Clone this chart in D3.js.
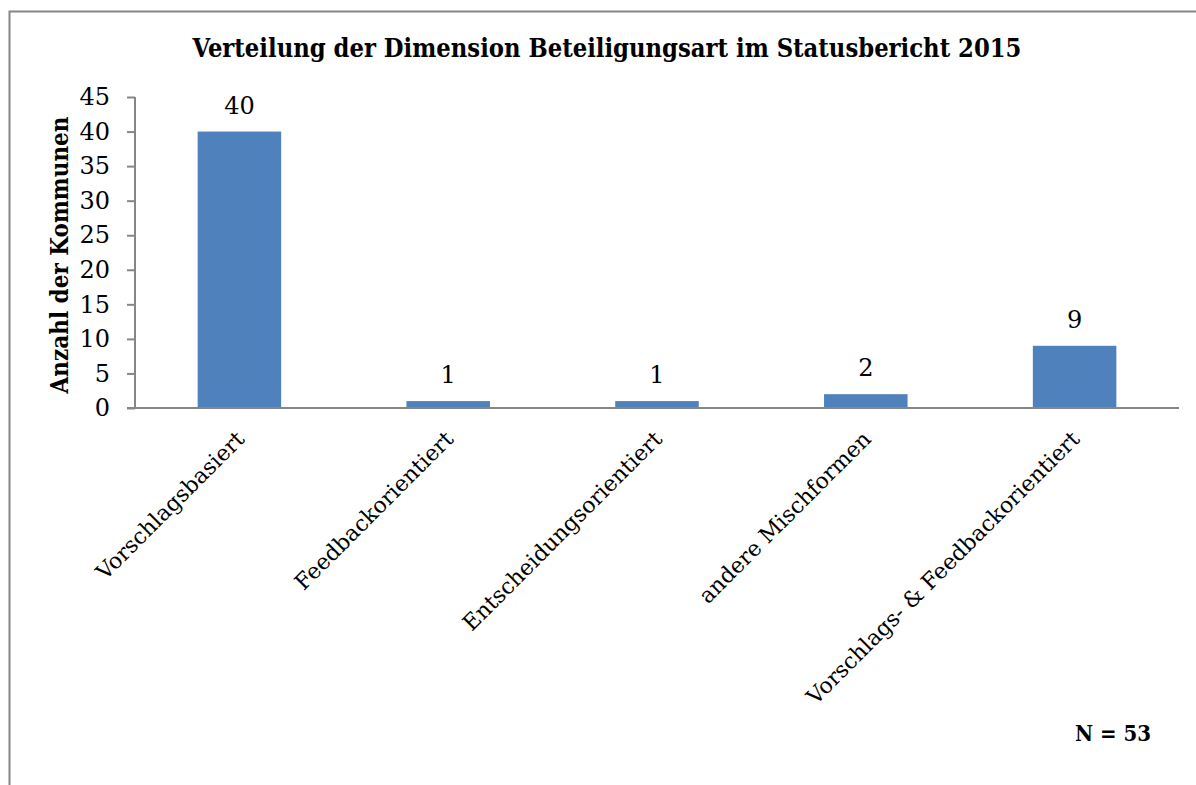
<!DOCTYPE html>
<html>
<head>
<meta charset="utf-8">
<script src="https://cdn.jsdelivr.net/npm/d3@7"></script>
<style>
  body { margin: 0; background: #fff; }
  text { font-family: "DejaVu Serif", "Liberation Serif", serif; fill: #000; }
</style>
</head>
<body>
<div class="barGraph"></div>
<script>
// Verteilung der Beteiligungsart - bar chart
var categories = ["Vorschlagsbasiert", "Feedbackorientiert", "Entscheidungsorientiert", "andere Mischformen", "Vorschlags- & Feedbackorientiert"];
var values = [40, 1, 1, 2, 9];
var yTicks = [0, 5, 10, 15, 20, 25, 30, 35, 40, 45];
var title = "Verteilung der Dimension Beteiligungsart im Statusbericht 2015";
var yTitle = "Anzahl der Kommunen";
var note = "N = 53";

function init(){
    var w = 1196, h = 785;
    var left = 135, right = 1179, top = 97, bottom = 408;
    var cond = "'DejaVu Serif Condensed', 'DejaVu Serif', serif";

    var svg = d3.select(".barGraph")
                .append("svg")
                .attr("width", w)
                .attr("height", h);

    // frame (only top + left visible in the crop)
    svg.append("path")
        .attr("d", "M9.5,785 V11.5 H1196")
        .attr("fill", "none")
        .attr("stroke", "#868686")
        .attr("stroke-width", 2);

    var x = d3.scaleBand()
        .domain(categories)
        .range([left, right])
        .paddingInner(0.6)
        .paddingOuter(0.3);

    var y = d3.scaleLinear()
        .domain([0, 45])
        .range([bottom, top]);

    svg.selectAll("rect.bar")
        .data(values)
        .enter()
        .append("rect")
        .attr("class", "bar")
        .attr("x", function(d, i){ return x(categories[i]); })
        .attr("y", function(d){ return y(d); })
        .attr("width", x.bandwidth())
        .attr("height", function(d){ return bottom - y(d); })
        .attr("fill", "#4F81BD");

    // value labels
    svg.selectAll("text.val")
        .data(values)
        .enter()
        .append("text")
        .attr("class", "val")
        .attr("x", function(d, i){ return x(categories[i]) + x.bandwidth() / 2; })
        .attr("y", function(d){ return y(d) - 18; })
        .attr("text-anchor", "middle")
        .style("font-size", "24px")
        .text(function(d){ return d; });

    // y axis
    var yAxis = d3.axisLeft(y)
        .tickValues(yTicks)
        .tickSize(8)
        .tickPadding(17)
        .tickFormat(d3.format("d"));
    var gy = svg.append("g")
        .attr("transform", "translate(" + left + ",0)")
        .call(yAxis);
    gy.select(".domain").remove();
    gy.append("line")
        .attr("x1", 0).attr("x2", 0)
        .attr("y1", top).attr("y2", bottom)
        .attr("stroke", "#868686").attr("stroke-width", 2);
    gy.selectAll(".tick line").attr("stroke", "#868686").attr("stroke-width", 2);
    gy.selectAll(".tick text")
        .style("font-size", "24px")
        .style("font-family", "'DejaVu Serif', serif")
        .attr("fill", "#000");

    // x axis
    var xAxis = d3.axisBottom(x).tickSize(0).tickPadding(12);
    var gx = svg.append("g")
        .attr("transform", "translate(0," + bottom + ")")
        .call(xAxis);
    gx.select(".domain").remove();
    gx.append("line")
        .attr("x1", left - 8).attr("x2", right)
        .attr("y1", 0).attr("y2", 0)
        .attr("stroke", "#868686").attr("stroke-width", 2);
    gx.selectAll(".tick text")
        .style("font-size", "22px")
        .style("font-family", "'DejaVu Serif', serif")
        .attr("fill", "#000")
        .attr("text-anchor", "end")
        .attr("dy", "0.35em")
        .attr("transform", "translate(1,27) rotate(-45)")
        .attr("y", 0)
        .attr("x", 0);

    // titles
    svg.append("text")
        .attr("x", 607)
        .attr("y", 57)
        .attr("text-anchor", "middle")
        .style("font-family", cond)
        .style("font-size", "25.3px")
        .style("font-weight", "bold")
        .text(title);

    svg.append("text")
        .attr("transform", "translate(68,255) rotate(-90)")
        .attr("text-anchor", "middle")
        .style("font-family", cond)
        .style("font-size", "24px")
        .style("font-weight", "bold")
        .text(yTitle);

    svg.append("text")
        .attr("x", 1151)
        .attr("y", 741)
        .attr("text-anchor", "end")
        .style("font-family", cond)
        .style("font-size", "22px")
        .style("font-weight", "bold")
        .text(note);
}
window.onload = init;
</script>
</body>
</html>
